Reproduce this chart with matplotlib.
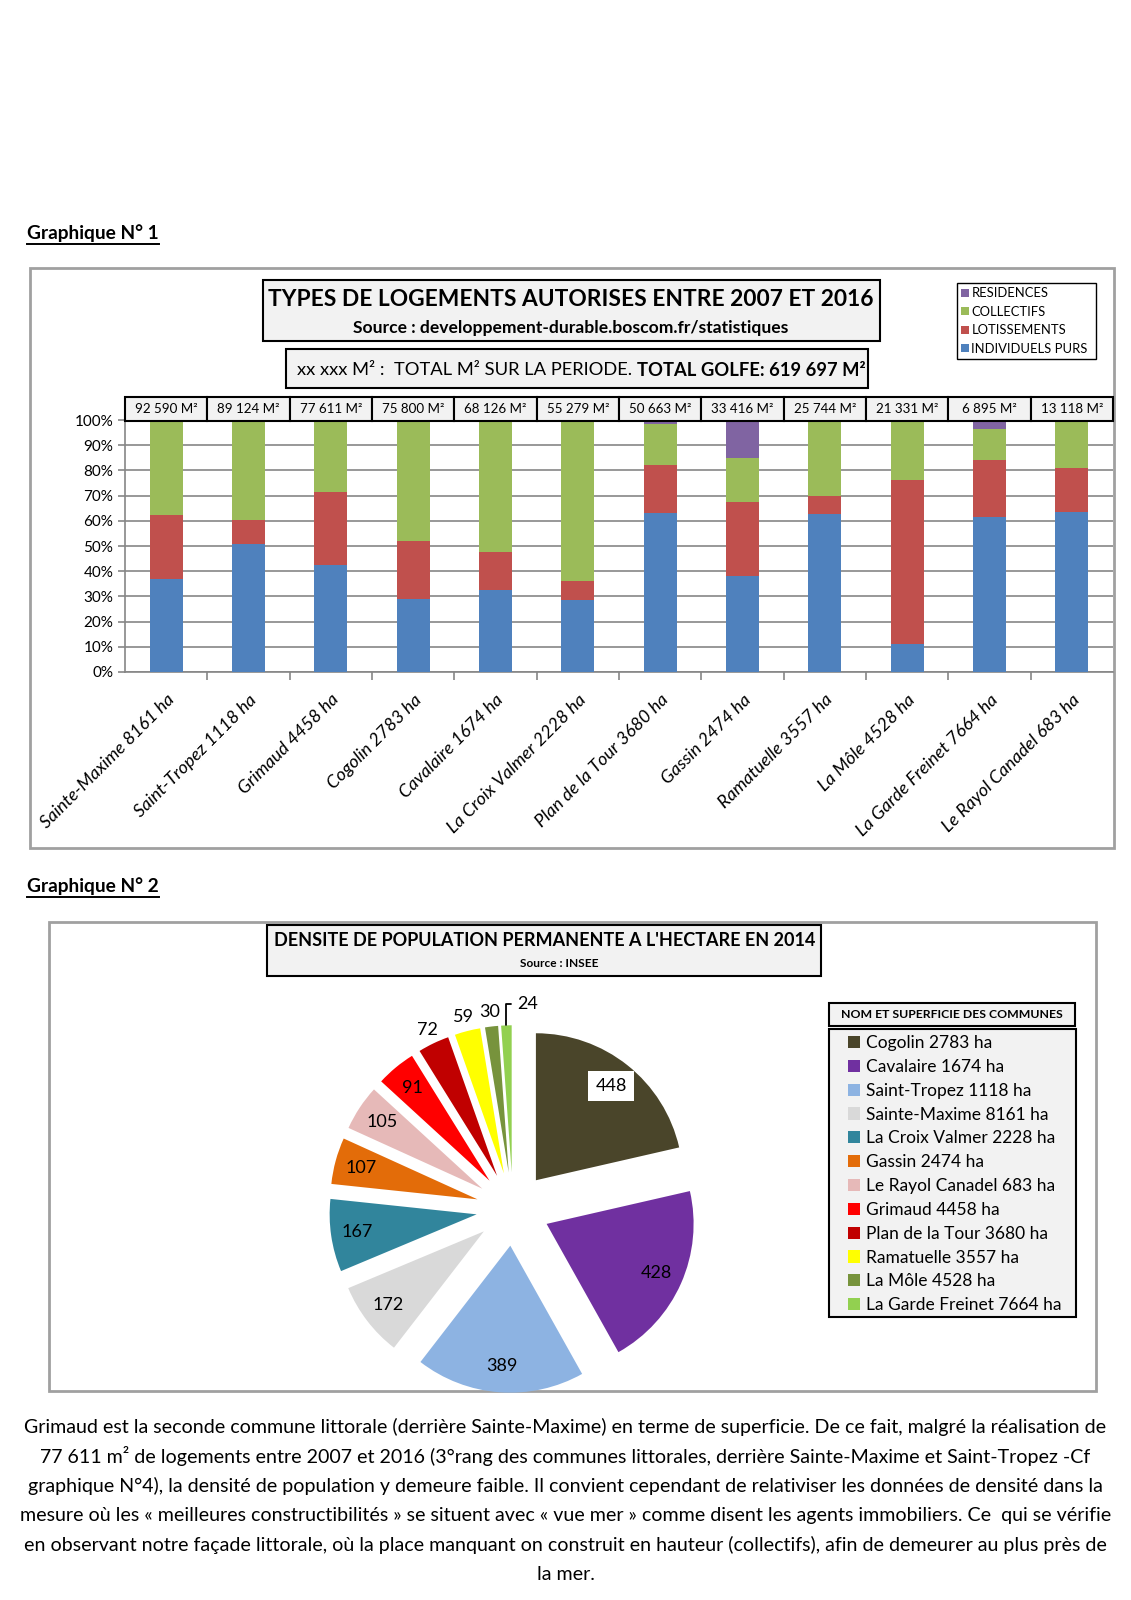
import numpy as np
import matplotlib.pyplot as plt
from matplotlib.patches import Rectangle
from matplotlib.lines import Line2D
from matplotlib.transforms import blended_transform_factory

plt.rcParams['font.family'] = ['Lato', 'DejaVu Sans']

W, H = 1131, 1600

# ---- data : graphique 1 ----
communes = ['Sainte-Maxime 8161 ha', 'Saint-Tropez 1118 ha', 'Grimaud 4458 ha',
            'Cogolin 2783 ha', 'Cavalaire 1674 ha', 'La Croix Valmer 2228 ha',
            'Plan de la Tour 3680 ha', 'Gassin 2474 ha', 'Ramatuelle 3557 ha',
            'La Môle 4528 ha', 'La Garde Freinet 7664 ha', 'Le Rayol Canadel 683 ha']
totaux_m2 = ['92 590 M²', '89 124 M²', '77 611 M²', '75 800 M²', '68 126 M²', '55 279 M²',
             '50 663 M²', '33 416 M²', '25 744 M²', '21 331 M²', '6 895 M²', '13 118 M²']
individuels = [36.8, 50.7, 42.3, 28.8, 32.7, 28.4, 63.2, 38.0, 62.8, 11.2, 61.4, 63.6]
lotissements = [25.4, 9.5, 29.1, 23.1, 15.1, 7.7, 18.8, 29.6, 7.0, 64.8, 22.9, 17.2]
collectifs = [37.8, 39.8, 28.6, 48.1, 52.2, 63.9, 16.5, 17.4, 30.2, 24.0, 12.1, 18.4]
residences = [0, 0, 0, 0, 0, 0, 1.5, 15.0, 0, 0, 3.6, 0.8]

# ---- data : graphique 2 ----
pie_labels = ['Cogolin 2783 ha', 'Cavalaire 1674 ha', 'Saint-Tropez 1118 ha',
              'Sainte-Maxime 8161 ha', 'La Croix Valmer 2228 ha', 'Gassin 2474 ha',
              'Le Rayol Canadel 683 ha', 'Grimaud 4458 ha', 'Plan de la Tour 3680 ha',
              'Ramatuelle 3557 ha', 'La Môle 4528 ha', 'La Garde Freinet 7664 ha']
densite = [448, 428, 389, 172, 167, 107, 105, 91, 72, 59, 30, 24]
pie_colors = ['#4A452A', '#7030A0', '#8DB3E2', '#D9D9D9', '#31859C', '#E36C09',
              '#E6B9B8', '#FF0000', '#C00000', '#FFFF00', '#77933C', '#92D050']

paragraphe = [
    "Grimaud est la seconde commune littorale (derrière Sainte-Maxime) en terme de superficie. De ce fait, malgré la réalisation de",
    "77 611 m² de logements entre 2007 et 2016 (3°rang des communes littorales, derrière Sainte-Maxime et Saint-Tropez -Cf",
    "graphique N°4), la densité de population y demeure faible. Il convient cependant de relativiser les données de densité dans la",
    "mesure où les « meilleures constructibilités » se situent avec « vue mer » comme disent les agents immobiliers. Ce  qui se vérifie",
    "en observant notre façade littorale, où la place manquant on construit en hauteur (collectifs), afin de demeurer au plus près de",
    "la mer.",
]


def fx(px):
    return px / W


def fy(py):
    return 1 - py / H


def box(fig, x0, y0, x1, y1, fc='#F2F2F2', ec='black', lw=1.5, z=0.5):
    fig.add_artist(Rectangle((fx(x0), fy(y1)), fx(x1) - fx(x0), fy(y0) - fy(y1),
                             transform=fig.transFigure, facecolor=fc, edgecolor=ec, lw=lw,
                             zorder=z))


fig = plt.figure(figsize=(W / 100, H / 100), dpi=100)
renderer = fig.canvas.get_renderer()


def underlined(fig, x, y, s, size=13.8):
    t = fig.text(fx(x), fy(y), s, fontsize=size, fontweight='bold', va='center', ha='left')
    bb = t.get_window_extent(renderer)
    yy = fy(y + 11)
    fig.add_artist(Line2D([bb.x0 / W, bb.x1 / W], [yy, yy], color='black', lw=1.4,
                          transform=fig.transFigure))


# =========== Graphique 1 ===========
underlined(fig, 27, 233, 'Graphique N° 1')
box(fig, 30, 268, 1114, 848, fc='white', ec='#A0A0A0', lw=2, z=0.1)

box(fig, 263, 280, 880, 341)
fig.text(fx(571), fy(300), 'TYPES DE LOGEMENTS AUTORISES ENTRE 2007 ET 2016',
         fontsize=16.4, fontweight='bold', ha='center', va='center')
fig.text(fx(571), fy(328), 'Source : developpement-durable.boscom.fr/statistiques',
         fontsize=12.6, fontweight='bold', ha='center', va='center')

box(fig, 286, 349, 868, 388)
t1 = fig.text(fx(297), fy(370), 'xx xxx M² :  TOTAL M² SUR LA PERIODE. ',
              fontsize=13.2, ha='left', va='center')
bb = t1.get_window_extent(renderer)
fig.text(bb.x1 / W, fy(370), 'TOTAL GOLFE: 619 697 M²', fontsize=13.2,
         fontweight='bold', ha='left', va='center')

ax = fig.add_axes([fx(125), fy(672), fx(1113) - fx(125), fy(420) - fy(672)])
ax.set_zorder(2)
ax.patch.set_alpha(0)
x = np.arange(len(communes))
bw = 0.4
b1 = ax.bar(x, individuels, bw, color='#4F81BD', zorder=3)
b2 = ax.bar(x, lotissements, bw, bottom=individuels, color='#C0504D', zorder=3)
bottom3 = np.array(individuels) + np.array(lotissements)
b3 = ax.bar(x, collectifs, bw, bottom=bottom3, color='#9BBB59', zorder=3)
b4 = ax.bar(x, residences, bw, bottom=bottom3 + np.array(collectifs), color='#8064A2', zorder=3)

ax.set_xlim(-0.5, len(communes) - 0.5)
ax.set_ylim(0, 100)
ax.set_yticks(np.arange(0, 101, 10))
ax.set_yticklabels([f'{v}%' for v in range(0, 101, 10)], fontsize=11)
ax.yaxis.grid(True, color='#868686', lw=1.2, zorder=0)
ax.set_xticks(x)
ax.set_xticklabels(communes, rotation=45, ha='right', rotation_mode='anchor',
                   fontsize=13, fontstyle='italic')
ax.set_xticks(x[:-1] + 0.5, minor=True)
ax.tick_params(axis='x', which='major', length=0, pad=14)
ax.tick_params(axis='x', which='minor', length=6, color='#868686', width=1.2)
ax.tick_params(axis='y', length=5, color='#868686', width=1.2)
for s in ['top', 'right']:
    ax.spines[s].set_visible(False)
for s in ['left', 'bottom']:
    ax.spines[s].set_color('#868686')
    ax.spines[s].set_linewidth(1.2)

trans = blended_transform_factory(ax.transData, ax.transAxes)
for i, lab in enumerate(totaux_m2):
    ax.add_patch(Rectangle((i - 0.5, 0.995), 1.0, 0.095, transform=trans, clip_on=False,
                           facecolor='#F2F2F2', edgecolor='black', lw=1.5, zorder=5))
    ax.text(i, 1.043, lab, transform=trans, ha='center', va='center', fontsize=9.6, zorder=6)

fig.legend([b4, b3, b2, b1], ['RESIDENCES', 'COLLECTIFS', 'LOTISSEMENTS', 'INDIVIDUELS PURS'],
           loc='upper left', bbox_to_anchor=(fx(957), fy(285), fx(1096) - fx(957), 0.001),
           mode='expand', fontsize=9.4, frameon=True, fancybox=False, edgecolor='black',
           facecolor='white', framealpha=1, handlelength=0.6, handleheight=0.6,
           handletextpad=0.2, labelspacing=0.5, borderpad=0.3, borderaxespad=0)

# =========== Graphique 2 ===========
underlined(fig, 27, 886, 'Graphique N° 2')
box(fig, 49, 922, 1096, 1391, fc='white', ec='#A0A0A0', lw=2, z=0.1)

box(fig, 267, 925, 821, 976)
fig.text(fx(545), fy(940), "DENSITE DE POPULATION PERMANENTE A L'HECTARE EN 2014",
         fontsize=13, fontweight='bold', ha='center', va='center')
fig.text(fx(559), fy(963), 'Source : INSEE', fontsize=8.6, fontweight='bold',
         ha='center', va='center')

R = 147
L = 1.5
cx, cy = 513, 1209
pax = fig.add_axes([fx(cx - L * R), fy(cy + L * R), 2 * L * R / W, 2 * L * R / H])
pax.set_zorder(2)
wedges, _ = pax.pie(densite, colors=pie_colors, explode=[0.25] * len(densite),
                    startangle=90, counterclock=False, radius=1,
                    wedgeprops=dict(linewidth=0))
pax.set_xlim(-L, L)
pax.set_ylim(-L, L)
pax.axis('off')

for w, v in zip(wedges, densite):
    a = np.deg2rad((w.theta1 + w.theta2) / 2)
    if v == 24:
        ta = np.deg2rad(86)
        pax.annotate(str(v), xy=(1.25 * np.cos(a), 1.25 * np.sin(a)),
                     xytext=(1.40 * np.cos(ta), 1.40 * np.sin(ta)),
                     ha='center', va='center', fontsize=13,
                     arrowprops=dict(arrowstyle='-', lw=1.3, color='black',
                                     connectionstyle='angle,angleA=0,angleB=90',
                                     shrinkA=2, shrinkB=0))
    elif v < 80:
        pax.text(1.35 * np.cos(a), 1.35 * np.sin(a), str(v), ha='center', va='center',
                 fontsize=13)
    else:
        kw = {}
        if v == 448:
            kw['bbox'] = dict(facecolor='white', edgecolor='none', pad=5)
        pax.text(1.07 * np.cos(a), 1.07 * np.sin(a), str(v), ha='center', va='center',
                 fontsize=13, **kw)

box(fig, 829, 1003, 1075, 1026)
fig.text(fx(952), fy(1015), 'NOM ET SUPERFICIE DES COMMUNES', fontsize=8.8,
         fontweight='bold', ha='center', va='center')
box(fig, 829, 1029, 1076, 1317)
fig.legend(wedges, pie_labels, loc='upper left',
           bbox_to_anchor=(fx(843), fy(1030)),
           fontsize=12.5, frameon=False, handlelength=0.7, handleheight=0.7,
           handletextpad=0.3, labelspacing=0.45, borderpad=0.3, borderaxespad=0)

# =========== texte ===========
for k, line in enumerate(paragraphe):
    fig.text(0.5, fy(1427 + k * 29.5), line, fontsize=14.1, ha='center', va='center')

fig.savefig('out.png', dpi=100)
